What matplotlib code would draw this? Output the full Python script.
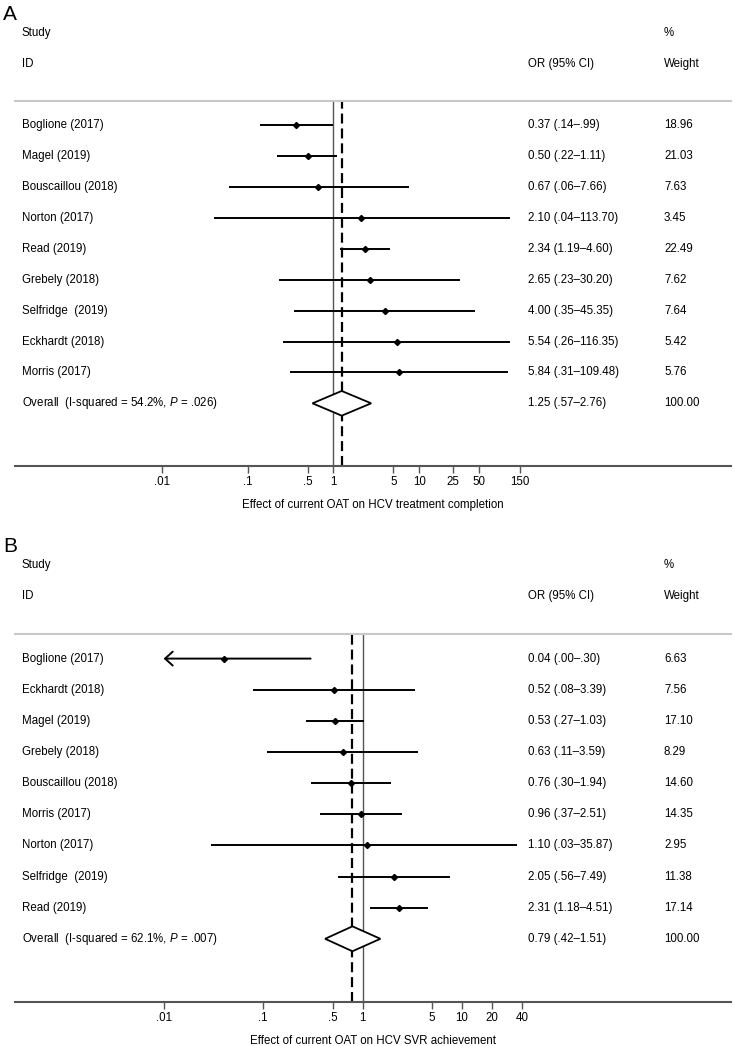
import matplotlib
matplotlib.use("Agg")
import matplotlib.pyplot as plt
from matplotlib.transforms import blended_transform_factory

plt.rcParams['font.family'] = ['Liberation Sans', 'DejaVu Sans']
plt.rcParams['font.size'] = 8.3
plt.rcParams['mathtext.fontset'] = 'custom'
plt.rcParams['mathtext.rm'] = 'Liberation Sans'
plt.rcParams['mathtext.it'] = 'Liberation Sans:italic'

# panel A: treatment completion
studies_a = ["Boglione (2017)", "Magel (2019)", "Bouscaillou (2018)", "Norton (2017)",
             "Read (2019)", "Grebely (2018)", "Selfridge  (2019)", "Eckhardt (2018)",
             "Morris (2017)"]
or_a = [0.37, 0.50, 0.67, 2.10, 2.34, 2.65, 4.00, 5.54, 5.84]
lo_a = [0.14, 0.22, 0.06, 0.04, 1.19, 0.23, 0.35, 0.26, 0.31]
hi_a = [0.99, 1.11, 7.66, 113.70, 4.60, 30.20, 45.35, 116.35, 109.48]
w_a = [18.96, 21.03, 7.63, 3.45, 22.49, 7.62, 7.64, 5.42, 5.76]
overall_a = [1.25, 0.57, 2.76]
isq_a = "54.2%"
p_a = ".026"
ticks_a = [0.01, 0.1, 0.5, 1, 5, 10, 25, 50, 150]
ticklabels_a = [".01", ".1", ".5", "1", "5", "10", "25", "50", "150"]

# panel B: SVR achievement
studies_b = ["Boglione (2017)", "Eckhardt (2018)", "Magel (2019)", "Grebely (2018)",
             "Bouscaillou (2018)", "Morris (2017)", "Norton (2017)", "Selfridge  (2019)",
             "Read (2019)"]
or_b = [0.04, 0.52, 0.53, 0.63, 0.76, 0.96, 1.10, 2.05, 2.31]
lo_b = [0.00, 0.08, 0.27, 0.11, 0.30, 0.37, 0.03, 0.56, 1.18]
hi_b = [0.30, 3.39, 1.03, 3.59, 1.94, 2.51, 35.87, 7.49, 4.51]
w_b = [6.63, 7.56, 17.10, 8.29, 14.60, 14.35, 2.95, 11.38, 17.14]
overall_b = [0.79, 0.42, 1.51]
isq_b = "62.1%"
p_b = ".007"
ticks_b = [0.01, 0.1, 0.5, 1, 5, 10, 20, 40]
ticklabels_b = [".01", ".1", ".5", "1", "5", "10", "20", "40"]

W, H = 735, 1046
fig = plt.figure(figsize=(W / 100, H / 100), dpi=100)


def fmt(v, lead=True):
    s = "%.2f" % v
    if not lead and s.startswith("0."):
        s = s[1:]
    return s


def panel(letter, top_px, bot_px, xlim, studies, est, lo, hi, wt, overall, isq, pval,
          ticks, ticklabels, xlabel):
    ax = fig.add_axes([15 / W, 1 - bot_px / H, 716 / W, (bot_px - top_px) / H])
    ax.set_xscale("log")
    ax.set_xlim(*xlim)
    ax.set_ylim(11.03, -0.79)
    tr = blended_transform_factory(fig.transFigure, ax.transData)

    ax.axvline(1, color="#555555", lw=1.0, zorder=1)
    ax.axvline(overall[0], color="black", lw=1.6, ls=(0, (4.5, 2.2)), zorder=1)

    for i in range(len(studies)):
        left = lo[i]
        if left < ticks[0]:
            # lower limit off the scale: arrow at the first tick
            ax.annotate("", xy=(ticks[0], i), xytext=(hi[i], i),
                        arrowprops=dict(arrowstyle="->,head_length=0.55,head_width=0.5",
                                        lw=1.4, color="black", shrinkA=0, shrinkB=0,
                                        mutation_scale=10))
        else:
            ax.plot([left, hi[i]], [i, i], color="black", lw=1.4, solid_capstyle="butt", zorder=2)
        ax.plot(est[i], i, marker="D", color="black", markersize=3.1, zorder=3)
        ax.text(22 / W, i, studies[i], transform=tr, va="center")
        ax.text(528 / W, i, "%s (%s\u2013%s)" % (fmt(est[i]), fmt(lo[i], False), fmt(hi[i], False)),
                transform=tr, va="center")
        ax.text(664 / W, i, "%.2f" % wt[i], transform=tr, va="center")

    r = len(studies)
    h = 0.4
    ax.fill([overall[1], overall[0], overall[2], overall[0]], [r, r - h, r, r + h],
            facecolor="white", edgecolor="black", lw=1.3, zorder=3)
    ax.text(22 / W, r, "Overall  (I-squared = %s, $\\it{P}$ = %s)" % (isq, pval),
            transform=tr, va="center")
    ax.text(528 / W, r, "%s (%s\u2013%s)" % (fmt(overall[0]), fmt(overall[1], False), fmt(overall[2], False)),
            transform=tr, va="center")
    ax.text(664 / W, r, "100.00", transform=tr, va="center")

    ax.text(22 / W, -3, "Study", transform=tr, va="center")
    ax.text(22 / W, -2, "ID", transform=tr, va="center")
    ax.text(528 / W, -2, "OR (95% CI)", transform=tr, va="center")
    ax.text(664 / W, -3, "%", transform=tr, va="center")
    ax.text(664 / W, -2, "Weight", transform=tr, va="center")
    ax.text(3 / W, -3.6, letter, transform=tr, va="center", fontsize=15)

    ax.set_yticks([])
    ax.set_xticks(ticks)
    ax.set_xticklabels(ticklabels)
    ax.minorticks_off()
    ax.tick_params(axis="x", direction="out", length=5, width=1, color="#555555", pad=2)
    for s in ["left", "right"]:
        ax.spines[s].set_visible(False)
    ax.spines["top"].set_color("#c8c8c8")
    ax.spines["top"].set_linewidth(1.5)
    ax.spines["bottom"].set_color("#555555")
    ax.spines["bottom"].set_linewidth(1.5)
    ax.set_xlabel(xlabel, labelpad=8)
    return ax


panel("A", 101, 466, (10 ** -3.715, 10 ** 4.639), studies_a, or_a, lo_a, hi_a, w_a,
      overall_a, isq_a, p_a, ticks_a, ticklabels_a,
      "Effect of current OAT on HCV treatment completion")
panel("B", 634, 1002, (10 ** -3.494, 10 ** 3.703), studies_b, or_b, lo_b, hi_b, w_b,
      overall_b, isq_b, p_b, ticks_b, ticklabels_b,
      "Effect of current OAT on HCV SVR achievement")

fig.savefig("out.png", dpi=100)
